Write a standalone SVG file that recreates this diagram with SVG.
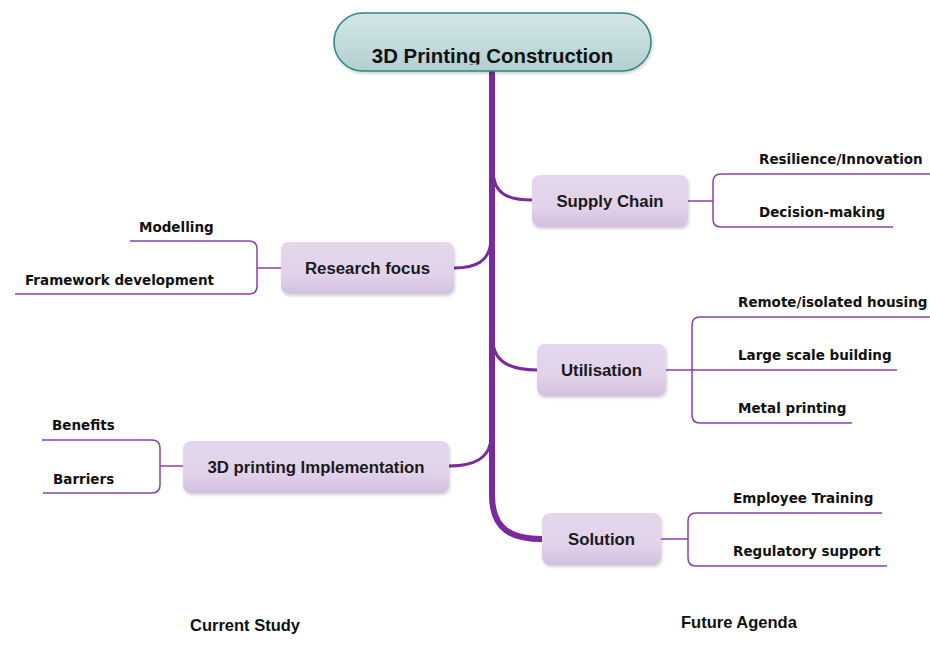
<svg xmlns="http://www.w3.org/2000/svg" width="930" height="648" viewBox="0 0 930 648">
<defs>
<linearGradient id="gTitle" x1="0" y1="0" x2="0" y2="1">
<stop offset="0" stop-color="#d4e7e7"/>
<stop offset="1" stop-color="#b2cfd0"/>
</linearGradient>
<linearGradient id="gNode" x1="0" y1="0" x2="0" y2="1">
<stop offset="0" stop-color="#e4d6eb"/>
<stop offset="0.6" stop-color="#e2d3ea"/>
<stop offset="1" stop-color="#d3bfdf"/>
</linearGradient>
<clipPath id="clipTitle"><rect x="334" y="13" width="317" height="51.5"/></clipPath>
<filter id="sh" x="-10%" y="-10%" width="120%" height="130%">
<feDropShadow dx="1" dy="2" stdDeviation="1.5" flood-color="#000" flood-opacity="0.18"/>
</filter>
</defs>
<style>
.node{fill:url(#gNode);filter:url(#sh)}
.nt{font-family:"Liberation Sans",Arial,sans-serif;font-size:16.8px;font-weight:bold;fill:#1a1a1a;text-anchor:middle}
.lbl{font-family:"DejaVu Sans",Verdana,sans-serif;font-size:13.5px;font-weight:bold;fill:#111}
.sub{fill:none;stroke:#8c3fad;stroke-width:1.5}
.br{fill:none;stroke:#7a2a9c;stroke-linecap:round}
.foot{font-family:"Liberation Sans",Arial,sans-serif;font-size:16.5px;font-weight:bold;fill:#111}
</style>
<rect width="930" height="648" fill="#fff"/>

<g id="connectors">
<path class="br" stroke-width="6" d="M492,72 L492,495 C492,530 512,539 542,539"/>
<path class="br" stroke-width="3" d="M493,170 C493,194 508,200 532,200"/>
<path class="br" stroke-width="3" d="M491,238 C491,262 475,268 454,268"/>
<path class="br" stroke-width="3" d="M493,340 C493,364 514,370 537,370"/>
<path class="br" stroke-width="3" d="M491,437 C491,460 470,466 449,466"/>

<path class="sub" d="M688,201 H713 M930,174 H721 Q713,174 713,182 V219 Q713,227 721,227 H893"/>
<path class="sub" d="M281,268 H257 M130,241 H249 Q257,241 257,249 V286 Q257,294 249,294 H15"/>
<path class="sub" d="M666,370 H897 M930,317 H700 Q692,317 692,325 V415 Q692,423 700,423 H852"/>
<path class="sub" d="M183,466 H160 M42,440 H152 Q160,440 160,448 V485 Q160,493 152,493 H43"/>
<path class="sub" d="M661,539 H688 M882,513 H696 Q688,513 688,521 V558 Q688,566 696,566 H887"/>
</g>

<g id="title">
<rect x="334" y="13" width="317" height="58" rx="29" fill="url(#gTitle)" stroke="#2d8585" stroke-width="1.5" filter="url(#sh)"/>
<text x="492.5" y="63" clip-path="url(#clipTitle)" font-family="Liberation Sans,Arial,sans-serif" font-size="20.4" font-weight="bold" fill="#111" text-anchor="middle">3D Printing Construction</text>
</g>

<g id="supply-chain">
<rect class="node" x="532" y="175" width="156" height="52" rx="8"/>
<text class="nt" x="610" y="207">Supply Chain</text>
</g>
<g id="research-focus">
<rect class="node" x="281" y="242" width="173" height="52" rx="8"/>
<text class="nt" x="367.5" y="274">Research focus</text>
</g>
<g id="utilisation">
<rect class="node" x="537" y="344" width="129" height="52" rx="8"/>
<text class="nt" x="601.5" y="376">Utilisation</text>
</g>
<g id="implementation">
<rect class="node" x="183" y="441" width="266" height="52" rx="8"/>
<text class="nt" x="316" y="473">3D printing Implementation</text>
</g>
<g id="solution">
<rect class="node" x="542" y="513" width="119" height="52" rx="8"/>
<text class="nt" x="601.5" y="545">Solution</text>
</g>

<g id="labels">
<text class="lbl" x="759" y="164">Resilience/Innovation</text>
<text class="lbl" x="759" y="217">Decision-making</text>
<text class="lbl" x="139" y="232">Modelling</text>
<text class="lbl" x="25" y="285">Framework development</text>
<text class="lbl" x="738" y="307">Remote/isolated housing</text>
<text class="lbl" x="738" y="360">Large scale building</text>
<text class="lbl" x="738" y="413">Metal printing</text>
<text class="lbl" x="52" y="430">Benefits</text>
<text class="lbl" x="53" y="484">Barriers</text>
<text class="lbl" x="733" y="503">Employee Training</text>
<text class="lbl" x="733" y="556">Regulatory support</text>
</g>

<g id="footer">
<text class="foot" x="190" y="631">Current Study</text>
<text class="foot" x="681" y="628">Future Agenda</text>
</g>
</svg>
